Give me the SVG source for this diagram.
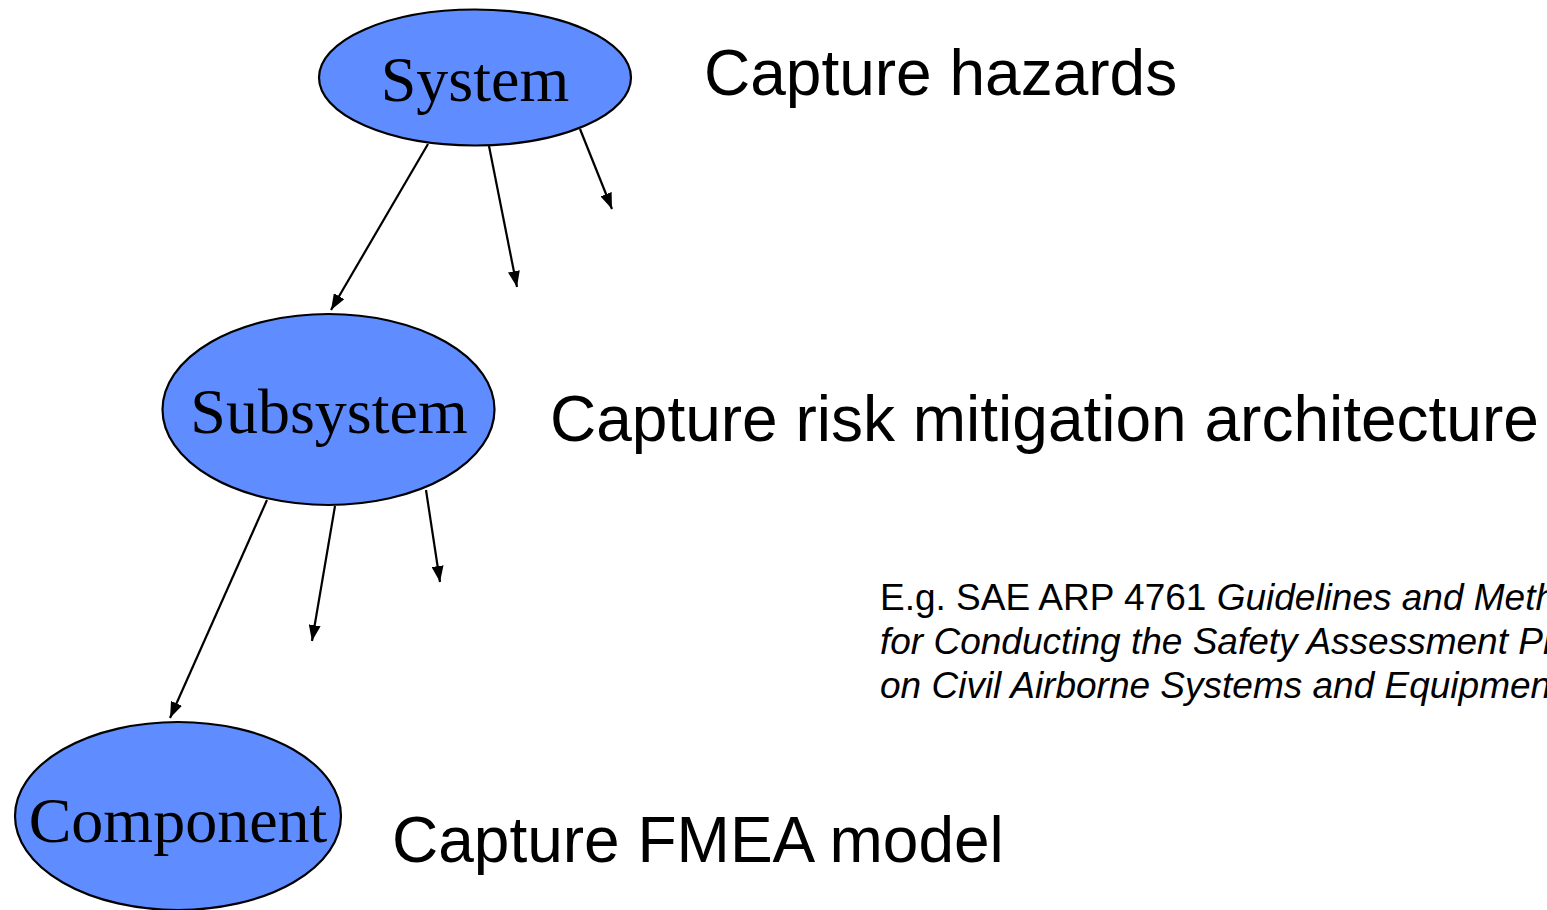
<svg xmlns="http://www.w3.org/2000/svg" width="1547" height="910" viewBox="0 0 1547 910">
  <defs>
    <marker id="arrow" viewBox="0 0 16 12" refX="16" refY="6" markerWidth="16" markerHeight="12" markerUnits="userSpaceOnUse" orient="auto">
      <path d="M0,0 L16,6 L0,12 Z" fill="#000"/>
    </marker>
    <style>
      .node { fill: #5F8DFF; stroke: #000; stroke-width: 2.2; }
      .nlabel { font-family: "Liberation Serif", "Times New Roman", serif; font-size: 64px; fill: #000; text-anchor: middle; }
      .caption { font-family: "Liberation Sans", Arial, sans-serif; font-size: 64px; fill: #000; }
      .ref { font-family: "Liberation Sans", Arial, sans-serif; font-size: 37px; fill: #000; }
      .edge { stroke: #000; stroke-width: 2.2; fill: none; marker-end: url(#arrow); }
    </style>
  </defs>
  <rect width="1547" height="910" fill="#fff"/>

  <g id="connectors">
    <line class="edge" x1="428" y1="144" x2="331" y2="310"/>
    <line class="edge" x1="489" y1="146" x2="517" y2="287"/>
    <line class="edge" x1="580" y1="129" x2="612" y2="209"/>
    <line class="edge" x1="267" y1="500" x2="170" y2="718"/>
    <line class="edge" x1="335" y1="506" x2="312" y2="641"/>
    <line class="edge" x1="426" y1="490" x2="440" y2="582"/>
  </g>

  <g id="system">
    <ellipse class="node" cx="475" cy="77.5" rx="156" ry="68"/>
    <text class="nlabel" x="475" y="101">System</text>
  </g>

  <g id="subsystem">
    <ellipse class="node" cx="328.5" cy="409.5" rx="166" ry="95.5"/>
    <text class="nlabel" x="329" y="433">Subsystem</text>
  </g>

  <g id="component">
    <ellipse class="node" cx="178" cy="816" rx="163" ry="94"/>
    <text class="nlabel" x="178" y="842">Component</text>
  </g>

  <g id="captions">
    <text class="caption" x="704" y="95">Capture hazards</text>
    <text class="caption" x="550" y="441">Capture risk mitigation architecture</text>
    <text class="caption" x="392" y="862">Capture FMEA model</text>
  </g>

  <!-- citation block; runs past the right edge of the canvas -->
  <g id="reference">
    <text class="ref" x="880" y="610">E.g. SAE ARP 4761 <tspan font-style="italic">Guidelines and Methods</tspan></text>
    <text class="ref" x="880" y="654" font-style="italic">for Conducting the Safety Assessment Process</text>
    <text class="ref" x="880" y="698" font-style="italic">on Civil Airborne Systems and Equipment</text>
  </g>
</svg>
